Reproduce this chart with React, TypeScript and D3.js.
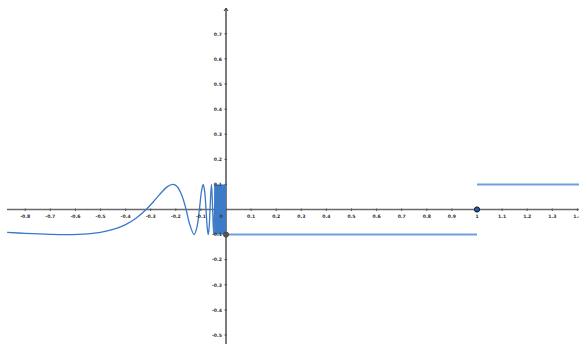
import React from "react";
import * as d3 from "d3";

const W = 579;
const H = 344;

// oscillating curve for x < 0
const curveX = [-0.872, -0.8, -0.7, -0.637, -0.55, -0.5, -0.45, -0.4, -0.36, -0.318, -0.29, -0.26, -0.235, -0.212, -0.195, -0.175, -0.159, -0.145, -0.127, -0.116, -0.106, -0.0975, -0.0909, -0.085, -0.0796, -0.0745, -0.0707, -0.067, -0.0637, -0.0579, -0.0531, -0.049, -0.0455, -0.0424];
const curveY = [-0.091, -0.095, -0.099, -0.1, -0.097, -0.091, -0.0795, -0.06, -0.0355, 0, 0.03, 0.0646, 0.09, 0.1, 0.0917, 0.054, 0, -0.0576, -0.1, -0.0711, 0, 0.0737, 0.1, 0.072, 0, -0.075, -0.1, -0.07, 0, 0.1, 0, -0.1, 0, 0.1];
// dense oscillation band near 0
const bandX = [-0.047, 0];
const bandY = [-0.1, 0.1];
// step pieces
const segStartX = [0, 1];
const segEndX = [1, 1.41];
const segY = [-0.1, 0.1];
// points
const pointX = [0, 1];
const pointY = [-0.1, 0];

const xTicks = [-0.8, -0.7, -0.6, -0.5, -0.4, -0.3, -0.2, -0.1, 0.1, 0.2, 0.3, 0.4, 0.5, 0.6, 0.7, 0.8, 0.9, 1, 1.1, 1.2, 1.3, 1.4];
const yTicks = [0.7, 0.6, 0.5, 0.4, 0.3, 0.2, 0.1, -0.1, -0.2, -0.3, -0.4, -0.5];

const fmt = (v: number) => {
  const s = String(Math.round(v * 10) / 10);
  return s;
};

export default function App() {
  const x0 = 226, y0 = 209.5, k = 251;
  const x = d3.scaleLinear().domain([0, 1]).range([x0, x0 + k]);
  const y = d3.scaleLinear().domain([0, 1]).range([y0, y0 - k]);

  const pts: [number, number][] = curveX.map((v, i) => [v, curveY[i]]);
  const line = d3
    .line<[number, number]>()
    .x((d) => x(d[0]))
    .y((d) => y(d[1]))
    .curve(d3.curveCatmullRom.alpha(0.5));

  const blue = "#3a78c9";
  const axisLeft = 7;

  return (
    <svg
      width={W}
      height={H}
      style={{ position: "fixed", left: 0, top: 0, background: "#fff" }}
      fontFamily="'DejaVu Sans', sans-serif"
    >
      <rect x={0} y={0} width={W} height={H} fill="#fff" />
      {/* x axis */}
      <line x1={axisLeft} x2={W} y1={y(0)} y2={y(0)} stroke="#6a6a6a" strokeWidth={1.4} />
      {xTicks.map((t) => (
        <line key={"xt" + t} x1={x(t)} x2={x(t)} y1={y(0) - 1} y2={y(0) + 1.5} stroke="#555" strokeWidth={1} />
      ))}
      {/* y axis */}
      <line x1={x(0)} x2={x(0)} y1={9} y2={H} stroke="#333" strokeWidth={1.3} />
      <path d={`M${x(0) - 2},${11} L${x(0)},${8} L${x(0) + 2},${11}`} fill="none" stroke="#333" strokeWidth={1} />
      {yTicks.map((t) => (
        <line key={"yt" + t} x1={x(0) - 1.5} x2={x(0) + 1} y1={y(t)} y2={y(t)} stroke="#444" strokeWidth={1} />
      ))}

      {/* curve */}
      <path d={line(pts) || ""} fill="none" stroke={blue} strokeWidth={1.3} />
      <rect
        x={x(bandX[0])}
        y={y(bandY[1])}
        width={x(bandX[1]) - x(bandX[0])}
        height={y(bandY[0]) - y(bandY[1])}
        fill="#3d7bc9"
      />
      {segY.map((v, i) => (
        <line key={"s" + i} x1={x(segStartX[i])} x2={x(segEndX[i])} y1={y(v)} y2={y(v)} stroke="#6f9fdc" strokeWidth={2} />
      ))}

      {/* labels */}
      {xTicks.map((t) => (
        <text key={"xl" + t} x={x(t)} y={y(0) + 8} fontSize={4.6} fontWeight="bold" fill="#333" textAnchor="middle">
          {fmt(t)}
        </text>
      ))}
      <text x={x(0) - 5} y={y(0) + 8} fontSize={4.6} fontWeight="bold" fill="#333" textAnchor="middle">0</text>
      {yTicks.map((t) => (
        <text key={"yl" + t} x={x(0) - 4} y={y(t) + 1.7} fontSize={4.6} fontWeight="bold" fill="#333" textAnchor="end">
          {fmt(t)}
        </text>
      ))}

      {/* points */}
      <circle cx={x(pointX[0])} cy={y(pointY[0])} r={2.6} fill="#555" stroke="#444" strokeWidth={0.8} />
      <circle cx={x(pointX[1])} cy={y(pointY[1])} r={2.6} fill="#1f5fb0" stroke="#111" strokeWidth={1} />
    </svg>
  );
}
